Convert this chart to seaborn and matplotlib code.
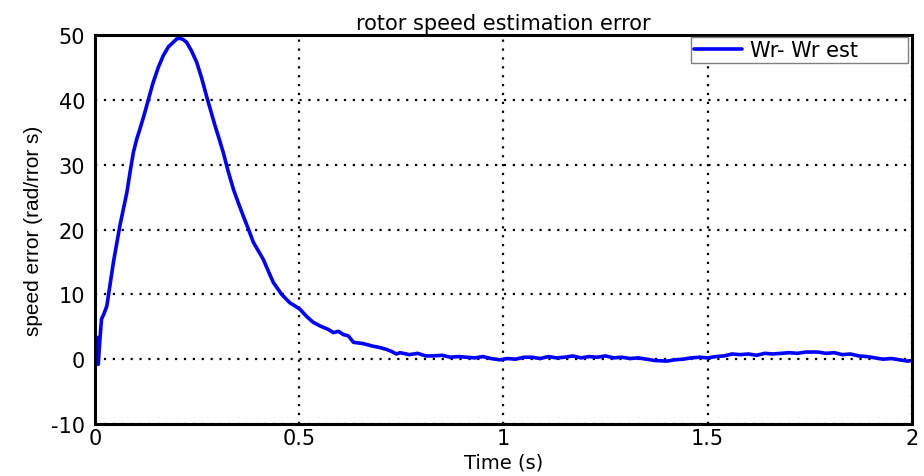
import matplotlib
matplotlib.use("Agg")
import matplotlib.pyplot as plt
import seaborn as sns
import pandas as pd

time_s = [0.000, 0.004, 0.008, 0.012, 0.016, 0.022, 0.029, 0.037, 0.045, 0.053, 0.061,
          0.070, 0.078, 0.086, 0.094, 0.102, 0.110, 0.120, 0.131, 0.142, 0.155, 0.167,
          0.180, 0.192, 0.200, 0.208, 0.216, 0.224, 0.236, 0.249, 0.261, 0.273, 0.284,
          0.294, 0.304, 0.314, 0.326, 0.339, 0.351, 0.363, 0.376, 0.388, 0.400, 0.412,
          0.425, 0.437, 0.457, 0.477, 0.490, 0.502, 0.518, 0.534, 0.552, 0.571, 0.584,
          0.596, 0.608, 0.620, 0.633, 0.657, 0.681, 0.697, 0.714, 0.726, 0.738, 0.747,
          0.770, 0.790, 0.810, 0.828, 0.850, 0.870, 0.890, 0.910, 0.930, 0.950, 0.970,
          0.991, 1.010, 1.030, 1.050, 1.070, 1.090, 1.110, 1.130, 1.150, 1.170, 1.190,
          1.210, 1.230, 1.250, 1.270, 1.290, 1.310, 1.330, 1.350, 1.370, 1.400, 1.420,
          1.440, 1.460, 1.480, 1.500, 1.520, 1.540, 1.560, 1.580, 1.600, 1.620, 1.640,
          1.660, 1.680, 1.700, 1.720, 1.740, 1.770, 1.790, 1.810, 1.830, 1.850, 1.870,
          1.890, 1.910, 1.930, 1.950, 1.970, 1.990, 2.000]
speed_err = [0.0, 3.4, -0.8, 3.0, 6.2, 7.0, 8.2, 11.5, 14.9, 17.8, 20.6,
             23.3, 25.7, 28.9, 31.9, 33.9, 35.5, 37.6, 40.1, 42.6, 45.0, 46.8,
             48.2, 48.9, 49.4, 49.5, 49.3, 48.9, 47.6, 45.8, 43.4, 40.6, 38.2,
             36.0, 34.0, 31.9, 29.0, 26.2, 24.1, 22.1, 20.0, 18.0, 16.7, 15.4,
             13.5, 11.8, 10.0, 8.7, 8.2, 7.7, 6.6, 5.7, 5.1, 4.6, 4.1,
             4.3, 3.8, 3.6, 2.6, 2.4, 2.0, 1.8, 1.5, 1.2, 0.8, 1.0,
             0.7, 0.9, 0.5, 0.5, 0.6, 0.3, 0.4, 0.3, 0.2, 0.4, 0.1,
             -0.1, 0.1, 0.0, 0.3, 0.3, 0.1, 0.4, 0.2, 0.3, 0.5, 0.2,
             0.4, 0.3, 0.5, 0.2, 0.3, 0.1, 0.2, 0.0, -0.2, -0.3, -0.1,
             0.0, 0.2, 0.3, 0.2, 0.4, 0.5, 0.8, 0.7, 0.8, 0.6, 0.9,
             0.8, 0.9, 1.0, 0.9, 1.1, 1.1, 0.9, 1.0, 0.7, 0.8, 0.5,
             0.4, 0.2, 0.0, 0.1, -0.1, -0.3, -0.2]

x_ticks = [0, 0.5, 1, 1.5, 2]
x_tick_labels = ["0", "0.5", "1", "1.5", "2"]
y_ticks = [-10, 0, 10, 20, 30, 40, 50]
y_tick_labels = ["-10", "0", "10", "20", "30", "40", "50"]

df = pd.DataFrame({"t": time_s, "err": speed_err})

sns.set_theme(style="white")
plt.rcParams["font.family"] = ["DejaVu Sans"]
plt.rcParams["axes.unicode_minus"] = False
plt.rcParams["text.color"] = "black"
plt.rcParams["axes.labelcolor"] = "black"
plt.rcParams["xtick.color"] = "black"
plt.rcParams["ytick.color"] = "black"

fig = plt.figure(figsize=(9.24, 4.77), dpi=100)
ax = fig.add_axes([0.1028, 0.109, 0.884, 0.8155])

sns.lineplot(data=df, x="t", y="err", ax=ax, color="#0000ff", linewidth=2.6,
             label="Wr- Wr est")

ax.set_xlim(0, 2)
ax.set_ylim(-10, 50)
ax.set_xticks(x_ticks)
ax.set_xticklabels(x_tick_labels)
ax.set_yticks(y_ticks)
ax.set_yticklabels(y_tick_labels)
ax.grid(True, color="black", linestyle=(0, (1, 3)), linewidth=1.6)
for s in ax.spines.values():
    s.set_visible(True)
    s.set_color("black")
    s.set_linewidth(2.2)
ax.tick_params(direction="in", length=5, width=1.5, colors="black",
               labelsize=15, top=False, right=False, pad=7)
ax.tick_params(axis="x", pad=3)
ax.set_xlabel("Time (s)", fontsize=14, labelpad=3, color="black")
ax.set_ylabel("speed error (rad/rror s)", fontsize=15, labelpad=6, color="black",
              family=["Liberation Sans Narrow", "Liberation Sans", "DejaVu Sans"])
ax.set_title("rotor speed estimation error", fontsize=15, pad=4, color="black")

leg = ax.legend(loc="upper left", bbox_to_anchor=(0.7295, 0.933, 0.2655, 0.062),
                mode="expand", fontsize=15, frameon=True, fancybox=False,
                borderpad=0.15, handlelength=2.3, handletextpad=0.4,
                borderaxespad=0.0)
leg.get_frame().set_edgecolor("#808080")
leg.get_frame().set_linewidth(1.0)
leg.get_frame().set_alpha(1)
for txt in leg.get_texts():
    txt.set_color("black")

fig.savefig("out.png", dpi=100)
